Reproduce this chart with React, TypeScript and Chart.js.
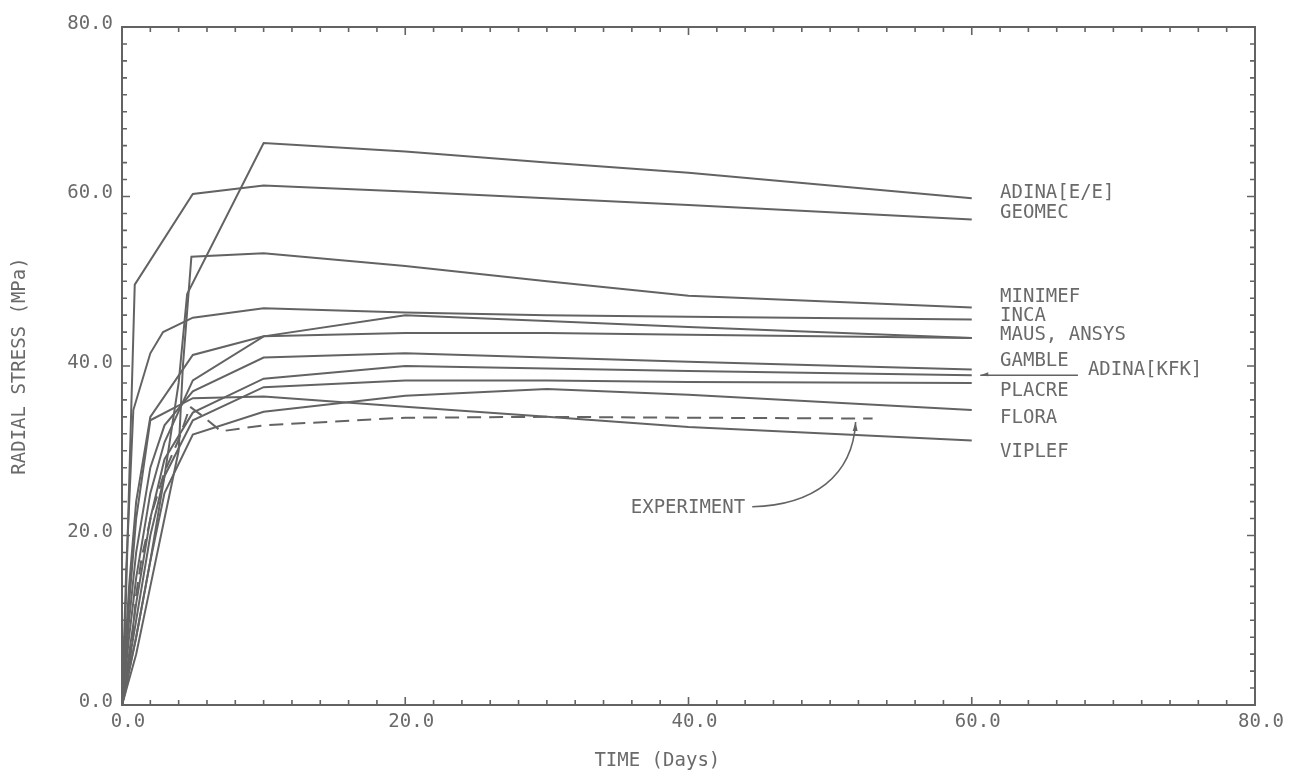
import React, { useEffect, useRef } from "react";
import { Chart, registerables } from "chart.js";

Chart.register(...registerables);

const FONT = '"DejaVu Sans Mono", "Liberation Mono", monospace';
const INK = "#636363";
const TEXT = "#6a6a6a";

// axis ticks
const axisMin = 0;
const axisMax = 80;
const majorStep = 20;
const minorStep = 2;

// series (time in days, radial stress in MPa)
const adinaEE_t = [0, 1, 2, 3, 4, 4.6, 10, 20, 30, 40, 60];
const adinaEE_v = [0, 8, 17, 27, 38, 48.5, 66.3, 65.3, 64.0, 62.8, 59.8];

const geomec_t = [0, 0.2, 0.9, 5, 10, 20, 30, 40, 60];
const geomec_v = [0, 8, 49.6, 60.3, 61.3, 60.6, 59.8, 59.0, 57.3];

const minimef_t = [0, 1, 2, 3, 4, 4.3, 4.9, 10, 20, 30, 40, 60];
const minimef_v = [0, 6, 14, 22, 30, 40, 52.9, 53.3, 51.8, 50.0, 48.3, 46.9];

const inca_t = [0, 0.3, 0.8, 2, 2.9, 5, 10, 20, 30, 40, 60];
const inca_v = [0, 16, 34.8, 41.5, 44.0, 45.7, 46.8, 46.3, 46.0, 45.8, 45.5];

const ansys_t = [0, 0.5, 1, 2, 5, 10, 20, 30, 40, 60];
const ansys_v = [0, 14, 24, 34, 41.3, 43.5, 43.9, 43.9, 43.7, 43.3];

const maus_t = [0, 0.5, 1, 2, 3, 5, 10, 20, 30, 40, 60];
const maus_v = [0, 8, 15, 25, 31, 38.3, 43.5, 46.0, 45.3, 44.6, 43.3];

const gamble_t = [0, 0.5, 1, 2, 3, 5, 10, 20, 30, 40, 60];
const gamble_v = [0, 10, 18, 28, 33, 37, 41.0, 41.5, 41.0, 40.5, 39.6];

const adinaKfk_t = [0, 0.5, 1, 2, 3, 5, 10, 20, 30, 40, 60];
const adinaKfk_v = [0, 6, 12, 22, 29, 34.5, 38.5, 40.0, 39.7, 39.4, 38.9];

const placre_t = [0, 0.5, 1, 2, 3, 5, 10, 20, 30, 40, 60];
const placre_v = [0, 5, 10, 20, 27, 33.6, 37.5, 38.3, 38.3, 38.1, 38.0];

const viplef_t = [0, 0.5, 1, 2, 5, 10, 20, 30, 40, 60];
const viplef_v = [0, 12, 22, 33.6, 36.2, 36.4, 35.2, 34.0, 32.8, 31.2];

const flora_t = [0, 0.5, 1, 2, 3, 5, 10, 20, 30, 40, 60];
const flora_v = [0, 4, 8, 17, 25, 31.9, 34.6, 36.5, 37.3, 36.6, 34.8];

const experiment_t = [0, 0.3, 0.7, 1.0, 1.4, 2.1, 3, 4, 4.8, 5.6, 7, 10, 20, 30, 40, 53];
const experiment_v = [0, 2, 7.3, 13, 17.5, 22.6, 27.5, 31.3, 35.2, 34.2, 32.3, 33.0, 33.9, 34.0, 33.9, 33.8];

// right-hand curve labels (label text, stress level where the label sits)
const endLabels = ["ADINA[E/E]", "GEOMEC", "MINIMEF", "INCA", "MAUS, ANSYS", "GAMBLE", "PLACRE", "FLORA", "VIPLEF"];
const endLabelLevels = [60.4, 58.0, 48.1, 45.9, 43.7, 40.6, 37.0, 33.8, 29.9];
const endLabelDay = 62;

const kfkLabel = "ADINA[KFK]";
const kfkLabelDay = 68.2;
const kfkLabelLevel = 39.5;
const kfkPointer = [60.6, 67.5, 38.9]; // from day, to day, level

const expLabel = "EXPERIMENT";
const expLabelDay = 44.0;
const expLabelLevel = 23.2;
const expArrowFrom = [44.5, 23.4];
const expArrowCtrl1 = [48.8, 23.6];
const expArrowCtrl2 = [51.6, 27.0];
const expArrowTo = [51.8, 33.4];

// axis titles
const xTitle = "TIME (Days)";
const xTitleDay = 37.8;
const yTitle = "RADIAL STRESS (MPa)";

function pts(t: number[], v: number[]) {
  return t.map((x, i) => ({ x, y: v[i] }));
}

const seriesDefs = [
  { label: "ADINA[E/E]", t: adinaEE_t, v: adinaEE_v, dashed: false },
  { label: "GEOMEC", t: geomec_t, v: geomec_v, dashed: false },
  { label: "MINIMEF", t: minimef_t, v: minimef_v, dashed: false },
  { label: "INCA", t: inca_t, v: inca_v, dashed: false },
  { label: "ANSYS", t: ansys_t, v: ansys_v, dashed: false },
  { label: "MAUS", t: maus_t, v: maus_v, dashed: false },
  { label: "GAMBLE", t: gamble_t, v: gamble_v, dashed: false },
  { label: "ADINA[KFK]", t: adinaKfk_t, v: adinaKfk_v, dashed: false },
  { label: "PLACRE", t: placre_t, v: placre_v, dashed: false },
  { label: "VIPLEF", t: viplef_t, v: viplef_v, dashed: false },
  { label: "FLORA", t: flora_t, v: flora_v, dashed: false },
  { label: "EXPERIMENT", t: experiment_t, v: experiment_v, dashed: true },
];

const decorPlugin = {
  id: "decor",
  afterDatasetsDraw(chart: any) {
    const { ctx, chartArea: a, scales } = chart;
    const xs = scales.x;
    const ys = scales.y;
    const X = (d: number) => xs.getPixelForValue(d);
    const Y = (v: number) => ys.getPixelForValue(v);
    ctx.save();
    ctx.strokeStyle = INK;
    ctx.fillStyle = TEXT;
    ctx.lineCap = "butt";

    // frame
    ctx.lineWidth = 2;
    ctx.strokeRect(a.left, a.top, a.right - a.left, a.bottom - a.top);

    // inward tick marks on all four sides
    ctx.lineWidth = 1.6;
    ctx.beginPath();
    for (let v = axisMin; v <= axisMax + 1e-9; v += minorStep) {
      const L = Math.abs(v % majorStep) < 1e-9 ? 8 : 5;
      const px = X(v);
      ctx.moveTo(px, a.bottom);
      ctx.lineTo(px, a.bottom - L);
      ctx.moveTo(px, a.top);
      ctx.lineTo(px, a.top + L);
      const py = Y(v);
      ctx.moveTo(a.left, py);
      ctx.lineTo(a.left + L, py);
      ctx.moveTo(a.right, py);
      ctx.lineTo(a.right - L, py);
    }
    ctx.stroke();

    // labels
    ctx.font = `19px ${FONT}`;
    ctx.textBaseline = "middle";
    ctx.textAlign = "left";
    endLabels.forEach((s, i) => {
      ctx.fillText(s, X(endLabelDay), Y(endLabelLevels[i]));
    });
    ctx.fillText(kfkLabel, X(kfkLabelDay), Y(kfkLabelLevel));

    // x-axis title
    ctx.textAlign = "center";
    ctx.fillText(xTitle, X(xTitleDay), a.bottom + 56);

    // ADINA[KFK] pointer
    ctx.lineWidth = 1.6;
    ctx.beginPath();
    ctx.moveTo(X(kfkPointer[0]), Y(kfkPointer[2]));
    ctx.lineTo(X(kfkPointer[1]), Y(kfkPointer[2]));
    ctx.stroke();
    const ax = X(kfkPointer[0]);
    const ay = Y(kfkPointer[2]);
    ctx.beginPath();
    ctx.moveTo(ax, ay);
    ctx.lineTo(ax + 8, ay - 3);
    ctx.lineTo(ax + 8, ay + 1);
    ctx.closePath();
    ctx.fillStyle = INK;
    ctx.fill();

    // EXPERIMENT label and curved arrow
    ctx.fillStyle = TEXT;
    ctx.textAlign = "right";
    ctx.fillText(expLabel, X(expLabelDay), Y(expLabelLevel));
    ctx.lineWidth = 1.6;
    ctx.beginPath();
    ctx.moveTo(X(expArrowFrom[0]), Y(expArrowFrom[1]));
    ctx.bezierCurveTo(
      X(expArrowCtrl1[0]), Y(expArrowCtrl1[1]),
      X(expArrowCtrl2[0]), Y(expArrowCtrl2[1]),
      X(expArrowTo[0]), Y(expArrowTo[1])
    );
    ctx.stroke();
    const tx = X(expArrowTo[0]);
    const ty = Y(expArrowTo[1]);
    ctx.beginPath();
    ctx.moveTo(tx, ty);
    ctx.lineTo(tx - 3, ty + 9);
    ctx.lineTo(tx + 2, ty + 9);
    ctx.closePath();
    ctx.fillStyle = INK;
    ctx.fill();

    ctx.restore();
  },
};

export default function App() {
  const ref = useRef<HTMLCanvasElement | null>(null);
  useEffect(() => {
    if (!ref.current) return;
    const chart = new Chart(ref.current, {
      type: "line",
      data: {
        datasets: seriesDefs.map((s) => ({
          label: s.label,
          data: pts(s.t, s.v),
          borderColor: INK,
          borderWidth: 2,
          borderDash: s.dashed ? [14, 8] : [],
          pointRadius: 0,
          tension: 0,
          fill: false,
        })),
      },
      options: {
        animation: false,
        responsive: false,
        maintainAspectRatio: false,
        layout: { padding: { top: 27, right: 44, left: 0, bottom: 0 } },
        plugins: {
          legend: { display: false },
          tooltip: { enabled: false },
          title: { display: false },
        },
        scales: {
          x: {
            type: "linear",
            position: "bottom",
            min: axisMin,
            max: axisMax,
            afterFit: (s: any) => {
              s.height = 68;
            },
            grid: { display: false, drawTicks: false },
            border: { display: false },
            ticks: {
              stepSize: majorStep,
              autoSkip: false,
              maxRotation: 0,
              padding: 6,
              labelOffset: 6,
              color: TEXT,
              font: { family: FONT, size: 19 },
              callback: (v: any) => Number(v).toFixed(1),
            },
            title: { display: false },
          },
          y: {
            type: "linear",
            min: axisMin,
            max: axisMax,
            afterFit: (s: any) => {
              s.width = 122;
            },
            grid: { display: false, drawTicks: false },
            border: { display: false },
            ticks: {
              stepSize: majorStep,
              autoSkip: false,
              padding: 9,
              labelOffset: -3,
              color: TEXT,
              font: { family: FONT, size: 19 },
              callback: (v: any) => Number(v).toFixed(1),
            },
            title: {
              display: true,
              text: yTitle,
              color: TEXT,
              font: { family: FONT, size: 19 },
              padding: { top: 9, bottom: 0 },
            },
          },
        },
      },
      plugins: [decorPlugin],
    });
    return () => chart.destroy();
  }, []);
  return (
    <div style={{ position: "fixed", left: 0, top: 0, width: 1299, height: 773, background: "#fff" }}>
      <canvas ref={ref} width={1299} height={773} style={{ display: "block" }} />
    </div>
  );
}
